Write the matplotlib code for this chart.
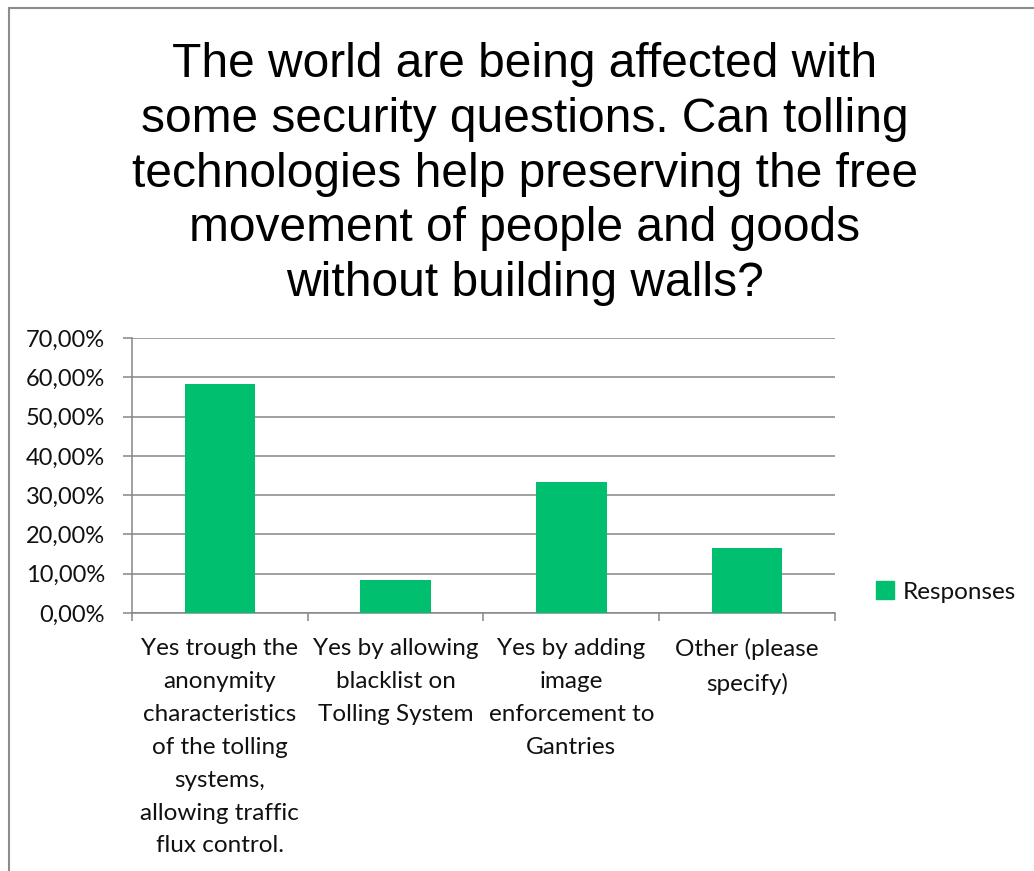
import matplotlib
matplotlib.use("Agg")
import matplotlib.pyplot as plt
from matplotlib.lines import Line2D
from matplotlib.patches import Patch
from matplotlib.ticker import MultipleLocator, FuncFormatter

title = ("The world are being affected with\n"
         "some security questions. Can tolling\n"
         "technologies help preserving the free\n"
         "movement of people and goods\n"
         "without building walls?")

categories = [
    "Yes trough the\nanonymity\ncharacteristics\nof the tolling\nsystems,\nallowing traffic\nflux control.",
    "Yes by allowing\nblacklist on\nTolling System",
    "Yes by adding\nimage\nenforcement to\nGantries",
    "Other (please\nspecify)",
]
responses = [0.5833, 0.0833, 0.3333, 0.1667]
series_name = "Responses"

bar_color = "#00BF6F"
grid_color = "#868686"
label_font = "Lato"

fig = plt.figure(figsize=(10.34, 8.71), dpi=100)
ax = fig.add_axes([0.1277, 0.2962, 0.8075 - 0.1277, 0.6119 - 0.2962])

x = range(len(categories))
ax.bar(x, responses, width=0.4, color=bar_color, zorder=3)

ax.set_xlim(-0.5, len(categories) - 0.5)
ax.set_ylim(0, 0.70)
ax.yaxis.set_major_locator(MultipleLocator(0.10))
ax.yaxis.set_major_formatter(FuncFormatter(lambda v, p: f"{v*100:.2f}%".replace(".", ",")))
ax.grid(axis="y", color=grid_color, linewidth=1.1, zorder=0)

for side in ("top", "right"):
    ax.spines[side].set_visible(False)
for side in ("left", "bottom"):
    ax.spines[side].set_color(grid_color)
    ax.spines[side].set_linewidth(1.1)

# category labels sit between the boundary ticks
ax.set_xticks([i + 0.5 for i in range(-1, len(categories))])
ax.set_xticklabels([])
ax.set_xticks(list(x), minor=True)
ax.set_xticklabels(categories, minor=True, fontsize=17.5, family=label_font,
                   linespacing=1.7, va="top", color="#111111")
ax.tick_params(axis="x", which="major", length=6, width=1.1, color=grid_color, direction="out")
ax.tick_params(axis="x", which="minor", length=0, pad=18)
ax.tick_params(axis="y", length=6.5, width=1.1, color=grid_color, pad=13)
for lbl in ax.get_yticklabels():
    lbl.set_fontsize(17)
    lbl.set_family(label_font)
    lbl.set_color("#111111")

fig.text(525 / 1034, 1 - 42 / 871, title, ha="center", va="top", fontsize=34.5,
         family="Liberation Sans", linespacing=1.28)

fig.legend(handles=[Patch(color=bar_color, label=series_name)], loc="center left",
           bbox_to_anchor=(866 / 1034, 1 - 592 / 871), frameon=False,
           prop={"family": label_font, "size": 17.5}, handlelength=0.75,
           handleheight=0.75, handletextpad=0.35, borderaxespad=0,
           labelcolor="#111111")

# outer frame of the chart area
fig.add_artist(Line2D([9 / 1034, 1], [1 - 8 / 871, 1 - 8 / 871], color="#8C8C8C", lw=1.5))
fig.add_artist(Line2D([9 / 1034, 9 / 1034], [0, 1 - 8 / 871], color="#8C8C8C", lw=1.5))

fig.savefig("out.png", dpi=100)
